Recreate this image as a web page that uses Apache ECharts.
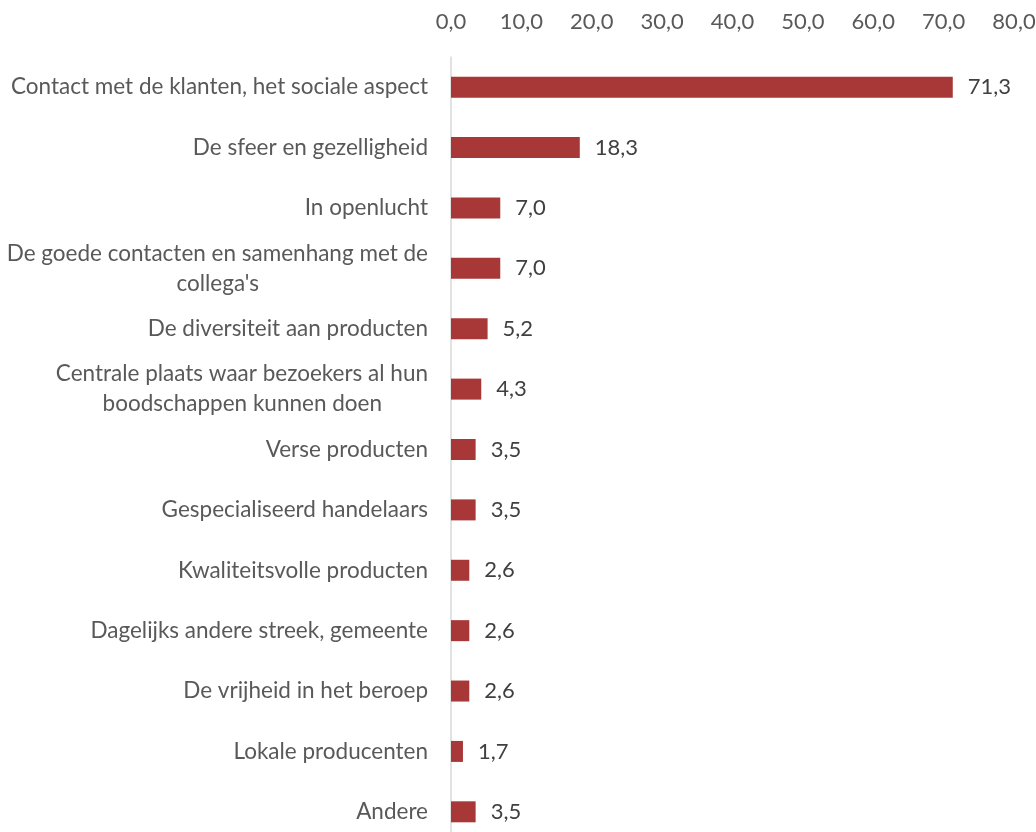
<!DOCTYPE html>
<html>
<head>
<meta charset="utf-8">
<script src="https://cdn.jsdelivr.net/npm/echarts@6/dist/echarts.min.js"></script>
<style>
  html, body { margin: 0; padding: 0; background: #ffffff; }
  #chart { width: 1036px; height: 832px; }
</style>
</head>
<body>
<div id="chart"></div>
<script>
// Redenen (in %)
const categories = [
  'Contact met de klanten, het sociale aspect',
  'De sfeer en gezelligheid',
  'In openlucht',
  "De goede contacten en samenhang met de\ncollega's",
  'De diversiteit aan producten',
  'Centrale plaats waar bezoekers al hun\nboodschappen kunnen doen',
  'Verse producten',
  'Gespecialiseerd handelaars',
  'Kwaliteitsvolle producten',
  'Dagelijks andere streek, gemeente',
  'De vrijheid in het beroep',
  'Lokale producenten',
  'Andere'
];
const values = [71.3, 18.3, 7.0, 7.0, 5.2, 4.3, 3.5, 3.5, 2.6, 2.6, 2.6, 1.7, 3.5];
const axisMin = 0;
const axisMax = 80;
const axisStep = 10;

const FONT = 'Lato, "Open Sans", sans-serif';
const FONT_SIZE = 22;
const CAT_FONT_SIZE = 22.5;
const LABEL_COLOR = '#595959';
const fmt = v => v.toFixed(1).replace('.', ',');

// line widths, used to centre the lines of wrapped category labels
const measureCtx = document.createElement('canvas').getContext('2d');
measureCtx.font = CAT_FONT_SIZE + 'px ' + FONT;
const textWidth = s => measureCtx.measureText(s).width;

// one rich style per distinct right padding
const richStyles = {
  p0: { color: LABEL_COLOR, fontFamily: FONT, fontSize: CAT_FONT_SIZE, lineHeight: 30 }
};
function categoryLabel(v) {
  const lines = v.split('\n');
  const w = Math.max(...lines.map(textWidth));
  return lines.map(s => {
    const pad = Math.round((w - textWidth(s)) / 2);
    const key = 'p' + pad;
    if (!richStyles[key]) {
      richStyles[key] = Object.assign({}, richStyles.p0, { padding: [0, pad, 0, 0] });
    }
    return '{' + key + '|' + s + '}';
  }).join('\n');
}
const categoryLabels = categories.map(categoryLabel);

const chart = echarts.init(document.getElementById('chart'), null, { renderer: 'canvas' });
chart.setOption({
  backgroundColor: '#ffffff',
  animation: false,
  grid: { left: 451, right: 22, top: 57, height: 785, outerBoundsMode: 'none', containLabel: false },
  xAxis: {
    type: 'value',
    position: 'top',
    min: axisMin,
    max: axisMax,
    interval: axisStep,
    axisLine: { show: false },
    axisTick: { show: false },
    splitLine: { show: false },
    axisLabel: {
      color: LABEL_COLOR,
      fontFamily: FONT,
      fontSize: FONT_SIZE,
      margin: 24,
      formatter: v => fmt(v)
    }
  },
  yAxis: {
    type: 'category',
    inverse: true,
    data: categories,
    axisLine: { show: true, lineStyle: { color: '#d9d9d9', width: 1.5 } },
    axisTick: { show: false },
    axisLabel: {
      margin: 23,
      align: 'right',
      formatter: (v, i) => categoryLabels[i],
      rich: richStyles
    }
  },
  series: [{
    type: 'bar',
    data: values,
    barWidth: 21,
    itemStyle: { color: '#a83838' },
    label: {
      show: true,
      position: 'right',
      distance: 15,
      color: '#404040',
      fontFamily: FONT,
      fontSize: FONT_SIZE,
      formatter: p => fmt(p.value)
    }
  }]
});
</script>
</body>
</html>
